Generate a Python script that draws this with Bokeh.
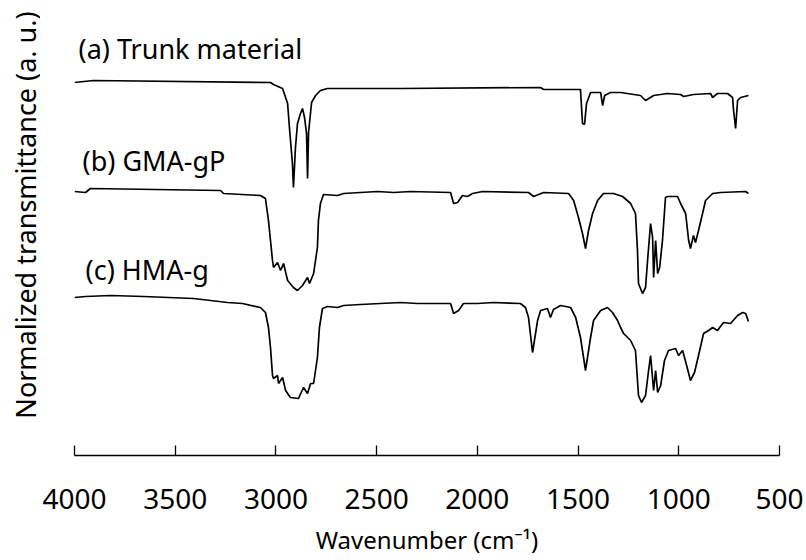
from bokeh.plotting import figure
from bokeh.models import Range1d, Label, FixedTicker
from bokeh.layouts import row
from bokeh.embed import file_html
from bokeh.resources import INLINE

# Wavenumber (cm-1) and normalized transmittance (a.u., stacked)
wn_a = [4000, 3906, 3027, 3012, 2967, 2942, 2933, 2918, 2913, 2903, 2893, 2878, 2868, 2858, 2848, 2843,
        2838, 2823, 2803, 2779, 2744, 2381, 1686, 1671, 1488, 1478, 1468, 1458, 1438, 1388, 1378, 1368,
        1339, 1289, 1190, 1165, 1125, 1056, 991, 976, 927, 842, 832, 808, 758, 733, 728, 718, 708, 693, 654]
t_a = [3.73, 3.75, 3.73, 3.71, 3.67, 3.52, 3.28, 2.92, 2.68, 3.08, 3.32, 3.42, 3.47, 3.38, 3.22, 2.77,
       3.23, 3.53, 3.60, 3.65, 3.67, 3.67, 3.68, 3.66, 3.66, 3.32, 3.31, 3.52, 3.63, 3.63, 3.50, 3.60,
       3.63, 3.63, 3.60, 3.55, 3.60, 3.62, 3.61, 3.59, 3.61, 3.62, 3.58, 3.62, 3.62, 3.58, 3.45, 3.27, 3.55, 3.58, 3.60]

wn_b = [4000, 3945, 3921, 3275, 3260, 3077, 3052, 3037, 3027, 3017, 3012, 2992, 2977, 2962, 2942, 2913,
        2893, 2868, 2843, 2833, 2813, 2794, 2789, 2779, 2764, 2694, 2664, 2496, 2416, 2332, 2133, 2118,
        2098, 2074, 2049, 2024, 1974, 1746, 1721, 1671, 1547, 1522, 1498, 1478, 1463, 1448, 1428, 1403,
        1374, 1324, 1279, 1239, 1215, 1205, 1200, 1180, 1165, 1155, 1140, 1130, 1125, 1115, 1105, 1095,
        1081, 1066, 1056, 1006, 991, 966, 951, 942, 927, 917, 902, 882, 867, 832, 793, 668, 654]
t_b = [2.64, 2.63, 2.67, 2.65, 2.62, 2.60, 2.57, 2.35, 2.15, 1.95, 1.88, 1.93, 1.85, 1.92, 1.75, 1.68,
       1.65, 1.70, 1.78, 1.72, 1.82, 2.08, 2.35, 2.52, 2.61, 2.60, 2.62, 2.64, 2.63, 2.64, 2.63, 2.52,
       2.53, 2.60, 2.59, 2.62, 2.64, 2.63, 2.59, 2.63, 2.62, 2.55, 2.38, 2.22, 2.07, 2.25, 2.42, 2.55,
       2.62, 2.62, 2.59, 2.52, 2.42, 2.05, 1.72, 1.62, 1.68, 1.95, 2.32, 2.18, 1.78, 2.15, 1.82, 1.88,
       2.15, 2.58, 2.59, 2.59, 2.52, 2.42, 2.15, 2.07, 2.20, 2.13, 2.25, 2.42, 2.55, 2.62, 2.63, 2.64, 2.62]

wn_c = [4000, 3945, 3821, 3657, 3409, 3240, 3166, 3077, 3052, 3037, 3027, 3017, 3012, 2992, 2987, 2967,
        2952, 2928, 2888, 2863, 2843, 2828, 2813, 2794, 2784, 2769, 2744, 2694, 2664, 2580, 2381, 2297,
        2133, 2118, 2093, 2069, 1999, 1920, 1786, 1761, 1746, 1726, 1701, 1686, 1652, 1637, 1622, 1587,
        1537, 1512, 1488, 1463, 1438, 1423, 1388, 1354, 1329, 1304, 1289, 1274, 1239, 1215, 1200, 1185,
        1165, 1150, 1140, 1125, 1115, 1105, 1090, 1071, 1051, 1016, 1001, 981, 961, 942, 922, 902,
        877, 852, 832, 808, 778, 743, 708, 683, 668, 654]
t_c = [1.58, 1.59, 1.60, 1.59, 1.57, 1.53, 1.52, 1.48, 1.43, 1.28, 1.08, 0.80, 0.77, 0.80, 0.72, 0.78,
       0.65, 0.58, 0.57, 0.68, 0.62, 0.72, 0.72, 0.98, 1.28, 1.47, 1.49, 1.48, 1.50, 1.51, 1.53, 1.52,
       1.52, 1.42, 1.45, 1.52, 1.52, 1.53, 1.52, 1.48, 1.38, 1.03, 1.35, 1.45, 1.47, 1.38, 1.46, 1.50,
       1.48, 1.38, 1.18, 0.85, 1.18, 1.35, 1.45, 1.48, 1.43, 1.35, 1.28, 1.22, 1.15, 1.05, 0.60, 0.53,
       0.60, 0.85, 1.00, 0.65, 0.85, 0.63, 0.70, 0.95, 1.05, 1.07, 1.00, 1.05, 0.90, 0.75, 0.83, 1.00,
       1.22, 1.25, 1.28, 1.25, 1.33, 1.32, 1.40, 1.43, 1.42, 1.34]

series_labels = ["(a) Trunk material", "(b) GMA-gP", "(c) HMA-g"]
label_wn = [3980, 3960, 3945]
label_t = [4.07, 2.95, 1.86]
x_ticks = [4000, 3500, 3000, 2500, 2000, 1500, 1000, 500]
y_title = "Normalized transmittance (a. u.)"
x_title = "Wavenumber (cm\u207b\u00b9)"

FONT = "Noto Sans"

# narrow side strip that carries the vertical axis title
side = figure(width=40, height=560, output_backend="svg", toolbar_location=None,
              x_range=Range1d(0, 40), y_range=Range1d(0, 560),
              min_border_left=0, min_border_right=0, min_border_top=0, min_border_bottom=0)
side.axis.visible = False
side.grid.visible = False
side.outline_line_color = None
side.add_layout(Label(x=25, y=296, text=y_title, angle=1.5708, text_font=FONT,
                      text_font_size="27px", text_color="black",
                      text_align="center", text_baseline="middle"))

p = figure(width=766, height=560, output_backend="svg", toolbar_location=None,
           x_range=Range1d(4000, 500), y_range=Range1d(0, 4.55),
           min_border_left=34, min_border_right=27, min_border_top=0, min_border_bottom=105)
p.outline_line_color = None
p.grid.visible = False
p.background_fill_color = "white"
p.yaxis.visible = False

for wn, t in ((wn_a, t_a), (wn_b, t_b), (wn_c, t_c)):
    p.line(wn, t, line_color="black", line_width=1.7)

for lab, xw, yt in zip(series_labels, label_wn, label_t):
    p.add_layout(Label(x=xw, y=yt, text=lab, text_font=FONT, text_font_size="27px",
                       text_color="black", text_align="left", text_baseline="middle"))

ax = p.xaxis[0]
ax.ticker = FixedTicker(ticks=x_ticks)
ax.major_tick_in = 10
ax.major_tick_out = 0
ax.minor_tick_line_color = None
ax.axis_line_color = "black"
ax.axis_line_width = 1.3
ax.major_tick_line_width = 1.3
ax.major_label_text_font = FONT
ax.major_label_text_font_size = "28px"
ax.major_label_text_color = "black"
ax.major_label_standoff = 33
ax.axis_label = x_title
ax.axis_label_text_font = FONT
ax.axis_label_text_font_size = "24px"
ax.axis_label_text_font_style = "normal"
ax.axis_label_text_color = "black"
ax.axis_label_standoff = 11

layout = row(side, p, spacing=0)
open("out.html", "w").write(file_html(layout, INLINE))
